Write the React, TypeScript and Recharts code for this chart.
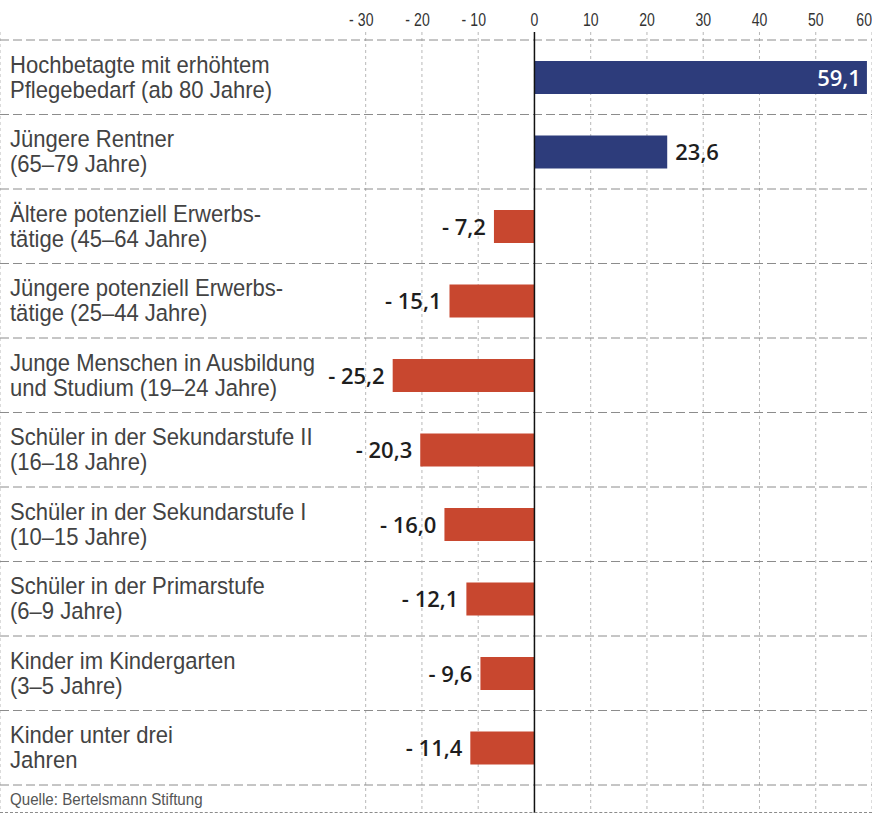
import React from 'react';
import { BarChart, Bar, XAxis, YAxis, CartesianGrid, ReferenceLine, Cell, LabelList } from 'recharts';

const categoryLines1 = [
  'Hochbetagte mit erhöhtem',
  'Jüngere Rentner',
  'Ältere potenziell Erwerbs-',
  'Jüngere potenziell Erwerbs-',
  'Junge Menschen in Ausbildung',
  'Schüler in der Sekundarstufe II',
  'Schüler in der Sekundarstufe I',
  'Schüler in der Primarstufe',
  'Kinder im Kindergarten',
  'Kinder unter drei',
];
const categoryLines2 = [
  'Pflegebedarf (ab 80 Jahre)',
  '(65–79 Jahre)',
  'tätige (45–64 Jahre)',
  'tätige (25–44 Jahre)',
  'und Studium (19–24 Jahre)',
  '(16–18 Jahre)',
  '(10–15 Jahre)',
  '(6–9 Jahre)',
  '(3–5 Jahre)',
  'Jahren',
];
const values = [59.1, 23.6, -7.2, -15.1, -25.2, -20.3, -16.0, -12.1, -9.6, -11.4];
const xTicks = [-30, -20, -10, 0, 10, 20, 30, 40, 50, 60];
const xDomain = [-95, 60];
const source = 'Quelle: Bertelsmann Stiftung';

const W = 872;
const H = 813;
const SANS = '"Liberation Sans", Arial, sans-serif';
const BOLDFONT = '"Open Sans", "Noto Sans", sans-serif';
const BLUE = '#2d3c7b';
const RED = '#c8472f';

const data = categoryLines1.map((l1, i) => ({
  name: l1 + '\n' + categoryLines2[i],
  value: values[i],
}));

const fmt = (v: number) => (v < 0 ? '- ' : '') + Math.abs(v).toFixed(1).replace('.', ',');

const NarrowText = ({ x, y, size, scale, fill, anchor, children }: any) => (
  <text
    transform={`translate(${x},${y}) scale(${scale},1)`}
    x={0}
    y={0}
    textAnchor={anchor || 'start'}
    fontFamily={SANS}
    fontSize={size}
    fill={fill}
  >
    {children}
  </text>
);

const CategoryLabel = (props: any) => {
  const vb = props.viewBox || {};
  const y = props.y ?? vb.y;
  const height = props.height ?? vb.height;
  const cy = y + height / 2;
  const lines = String(props.value).split('\n');
  return (
    <g>
      <NarrowText x={10} y={cy - 5} size={24.5} scale={0.9} fill="#434343">{lines[0]}</NarrowText>
      <NarrowText x={10} y={cy + 20} size={24.5} scale={0.9} fill="#434343">{lines[1]}</NarrowText>
    </g>
  );
};

const XTick = (props: any) => {
  const { x, y, payload, index } = props;
  const v = payload.value as number;
  const isLast = index === xTicks.length - 1;
  return (
    <g>
      <NarrowText x={x} y={y + 2} size={19} scale={0.74} fill="#333" anchor={isLast ? 'end' : 'middle'}>
        {Math.abs(v)}
      </NarrowText>
      {v < 0 && (
        <NarrowText x={x - 12} y={y + 2} size={19} scale={0.74} fill="#333" anchor="end">-</NarrowText>
      )}
    </g>
  );
};

const ValueLabel = (props: any) => {
  const vb = props.viewBox || {};
  const x = props.x ?? vb.x;
  const y = props.y ?? vb.y;
  const width = props.width ?? vb.width;
  const height = props.height ?? vb.height;
  const value = props.value as number;
  const left = Math.min(x, x + width);
  const right = Math.max(x, x + width);
  const cy = y + height / 2;
  const common = { fontFamily: BOLDFONT, fontSize: 22, fontWeight: 600 } as any;
  if (value >= 0) {
    const inside = right + 60 > W;
    if (inside) {
      return (
        <text x={right - 6} y={cy + 8} textAnchor="end" fill="#ffffff" {...common}>{fmt(value)}</text>
      );
    }
    return (
      <text x={right + 8} y={cy + 8} textAnchor="start" fill="#1e1e1e" {...common}>{fmt(value)}</text>
    );
  }
  return (
    <text x={left - 8} y={cy + 8} textAnchor="end" fill="#1e1e1e" {...common}>{fmt(value)}</text>
  );
};

export default function App() {
  return (
    <div style={{ position: 'absolute', left: 0, top: 0, width: W, height: H, background: '#fff', overflow: 'hidden' }}>
      <BarChart
        width={W}
        height={H}
        data={data}
        layout="vertical"
        margin={{ top: 0, right: 0, bottom: 0, left: 0 }}
      >
        <CartesianGrid horizontal={false} vertical={true} stroke="#b8b8b8" strokeDasharray="3 3" />
        <XAxis
          type="number"
          orientation="top"
          domain={xDomain}
          ticks={xTicks}
          interval={0}
          height={32}
          axisLine={false}
          tickLine={false}
          allowDataOverflow
          tick={<XTick />}
        />
        <YAxis
          type="category"
          dataKey="name"
          width={0}
          hide
          padding={{ top: 8, bottom: 28 }}
        />
        {data.map((d) => (
          <ReferenceLine key={'s' + d.name} y={d.name} position="start" stroke="#8c8c8c" strokeDasharray="9 4" />
        ))}
        <ReferenceLine y={data[data.length - 1].name} position="end" stroke="#8c8c8c" strokeDasharray="9 4" />
        <ReferenceLine x={0} stroke="#111" strokeWidth={1.5} />
        <Bar dataKey="value" barSize={33} isAnimationActive={false}>
          {data.map((d, i) => (
            <Cell key={i} fill={d.value >= 0 ? BLUE : RED} />
          ))}
          <LabelList dataKey="value" content={<ValueLabel />} />
          <LabelList dataKey="name" content={<CategoryLabel />} />
        </Bar>
      </BarChart>
      <div
        style={{
          position: 'absolute',
          left: 10,
          top: 790,
          fontFamily: SANS,
          fontSize: 17,
          color: '#555',
          lineHeight: '20px',
          transform: 'scaleX(0.89)',
          transformOrigin: 'left center',
          whiteSpace: 'nowrap',
        }}
      >
        {source}
      </div>
      <div style={{ position: 'absolute', left: 0, top: 812, width: W, borderTop: '1px dashed #8c8c8c' }} />
    </div>
  );
}
